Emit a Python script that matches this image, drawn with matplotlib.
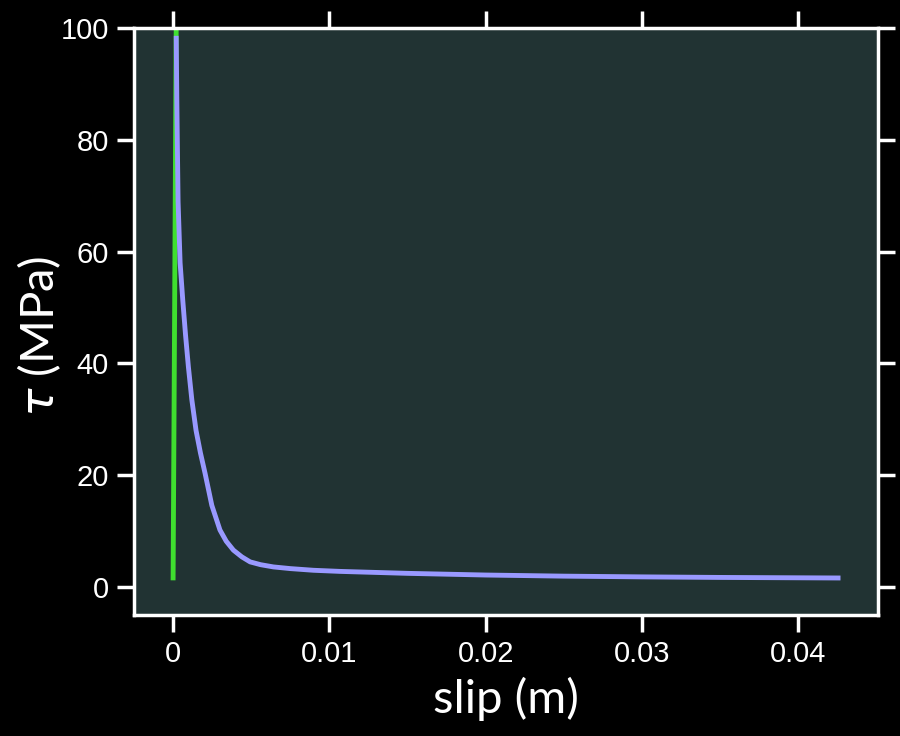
import matplotlib
matplotlib.use("Agg")
import matplotlib.pyplot as plt

slip_green = [0.0, 0.00005, 0.0001, 0.00015, 0.0002]
tau_green = [1.2, 25.0, 50.0, 75.0, 100.0]

slip_blue = [0.0002, 0.00024, 0.00032, 0.00045, 0.00062, 0.0008, 0.00098, 0.0012,
             0.00147, 0.00175, 0.00205, 0.00248, 0.0030, 0.0034, 0.00386, 0.0044,
             0.00493, 0.0056, 0.00642, 0.0075, 0.00898, 0.01068, 0.015, 0.020,
             0.025, 0.030, 0.035, 0.0427]
tau_blue = [98.6, 87.0, 69.0, 58.0, 51.3, 45.0, 39.4, 33.5,
            28.0, 24.0, 20.3, 14.6, 10.2, 8.2, 6.6, 5.4,
            4.5, 4.0, 3.6, 3.3, 3.0, 2.8, 2.45, 2.15,
            1.95, 1.82, 1.72, 1.62]

xticks = [0, 0.01, 0.02, 0.03, 0.04]
xticklabels = ["0", "0.01", "0.02", "0.03", "0.04"]
yticks = [0, 20, 40, 60, 80, 100]

plt.rcParams['mathtext.fontset'] = 'dejavusans'

fig = plt.figure(figsize=(9, 7.36), dpi=100, facecolor='black')
ax = fig.add_axes([134/900, 1-615/736, (878-134)/900, (615-28)/736])
ax.set_facecolor('#213333')

ax.plot(slip_green, tau_green, color='#3fdf2f', lw=3.5, solid_capstyle='butt')
ax.plot(slip_blue, tau_blue, color='#9999ff', lw=3.5, solid_capstyle='butt',
        solid_joinstyle='round')

ax.set_xlim(-0.0025, 0.0451)
ax.set_ylim(-5, 100)
ax.set_xticks(xticks)
ax.set_xticklabels(xticklabels)
ax.set_yticks(yticks)

for s in ax.spines.values():
    s.set_color('white')
    s.set_linewidth(2.5)
ax.tick_params(which='both', direction='out', length=12, width=2.5, color='white',
               labelcolor='white', labelsize=21, pad=6,
               top=True, right=True, labeltop=False, labelright=False)
for lab in ax.get_xticklabels() + ax.get_yticklabels():
    lab.set_family('Liberation Sans')

ax.set_xlabel('slip (m)', color='white', fontsize=34, family='Lato', labelpad=6)
ax.set_ylabel(r'$\tau$ (MPa)', color='white', fontsize=34, family='Lato')
ax.yaxis.set_label_coords(-0.096, 0.475)

fig.savefig('out.png', dpi=100, facecolor='black')
